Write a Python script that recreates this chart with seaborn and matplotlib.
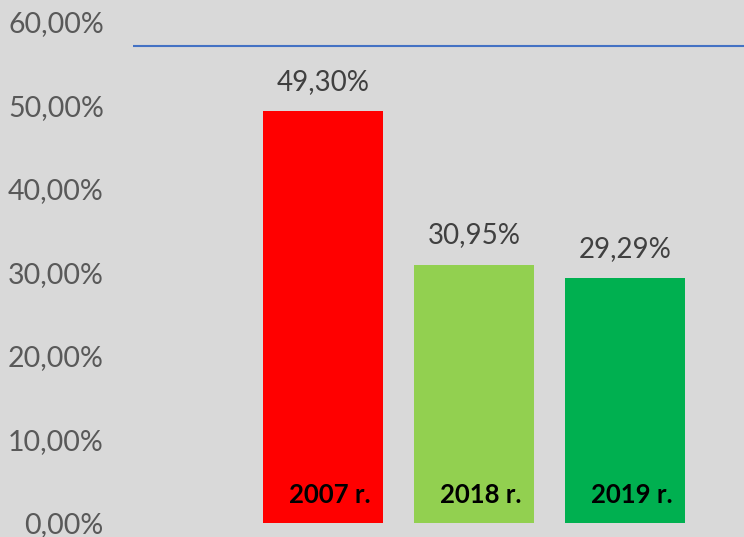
import matplotlib
matplotlib.use("Agg")
import matplotlib.pyplot as plt
import seaborn as sns
import pandas as pd

years = ["2007 r.", "2018 r.", "2019 r."]
values = [49.30, 30.95, 29.29]
bar_colors = ["#FF0000", "#92D050", "#00B050"]
ref_line = 57.1
y_ticks = [0, 10, 20, 30, 40, 50, 60]

sns.set_theme(style="white")
plt.rcParams['font.family'] = ['Lato', 'DejaVu Sans']

df = pd.DataFrame({"year": years, "value": values})

fig = plt.figure(figsize=(7.44, 5.37), dpi=100, facecolor="#D9D9D9")
ax = fig.add_axes([133/744, (537-523)/537, 1-133/744, (523-22)/537])
ax.set_facecolor("#D9D9D9")

sns.barplot(data=df, x="year", y="value", hue="year", palette=bar_colors,
            legend=False, width=0.795, saturation=1, linewidth=0,
            edgecolor="none", ax=ax)

ax.set_ylim(0, 60)
ax.set_xlim(-1.258, 2.788)
ax.set_yticks(y_ticks)
ax.set_yticklabels([f"{t:.2f}%".replace(".", ",") for t in y_ticks],
                   color="#595959", fontsize=20.5)
ax.tick_params(axis="y", length=0, pad=21)
for lab in ax.get_yticklabels():
    lab.set_clip_on(False)
ax.set_xticks([])
ax.set_xlabel("")
ax.set_ylabel("")
for s in ax.spines.values():
    s.set_visible(False)

ax.axhline(ref_line, color="#4472C4", lw=1.5)

for i, (yr, v) in enumerate(zip(years, values)):
    ax.annotate(f"{v:.2f}%".replace(".", ","), (i, v), xytext=(0, 12),
                textcoords="offset points", ha="center", va="bottom",
                color="#404040", fontsize=20)
    ax.annotate(yr, (i, 0), xytext=(5, 20), textcoords="offset points",
                ha="center", va="center", color="black", fontsize=18.5,
                fontweight="bold")

fig.savefig("out.png", dpi=100, facecolor=fig.get_facecolor())
